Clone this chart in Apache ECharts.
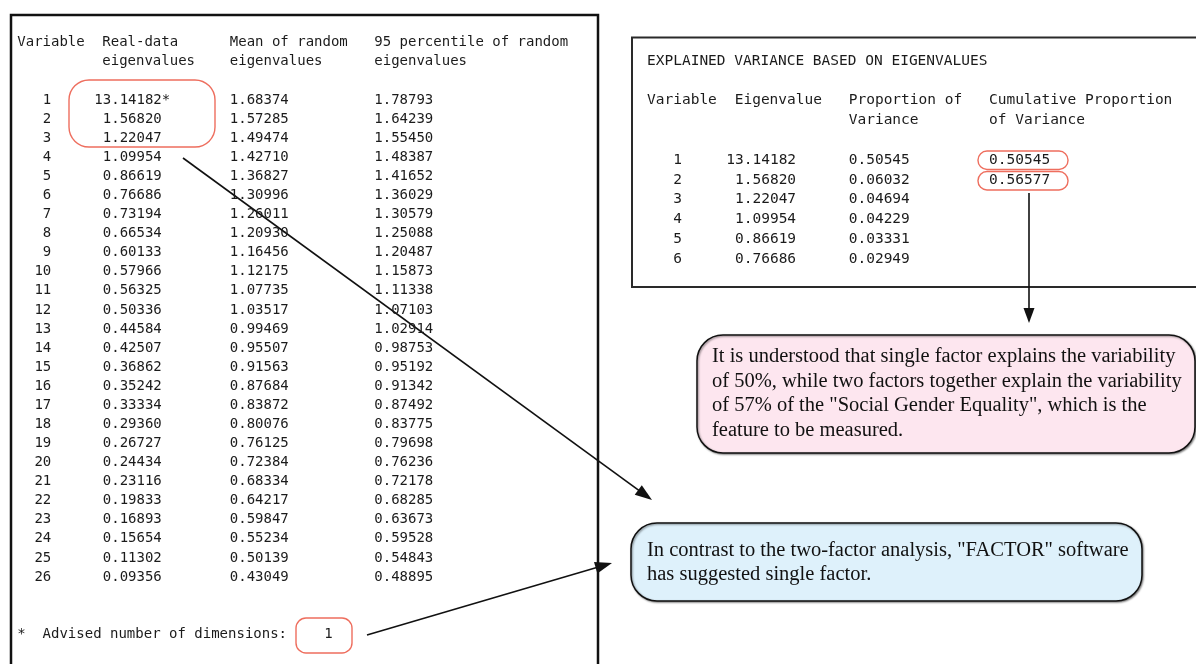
<!DOCTYPE html>
<html>
<head>
<meta charset="utf-8">
<script src="https://cdn.jsdelivr.net/npm/echarts@6/dist/echarts.min.js"></script>
<style>
html,body{margin:0;padding:0;background:#fff;}
#chart{width:1196px;height:664px;}
</style>
</head>
<body>
<div id="chart"></div>
<script>
// ---------- DATA ----------
const parallelVariables = [1,2,3,4,5,6,7,8,9,10,11,12,13,14,15,16,17,18,19,20,21,22,23,24,25,26];
const realDataEigenvalues = [13.14182,1.56820,1.22047,1.09954,0.86619,0.76686,0.73194,0.66534,0.60133,0.57966,0.56325,0.50336,0.44584,0.42507,0.36862,0.35242,0.33334,0.29360,0.26727,0.24434,0.23116,0.19833,0.16893,0.15654,0.11302,0.09356];
const meanRandomEigenvalues = [1.68374,1.57285,1.49474,1.42710,1.36827,1.30996,1.26011,1.20930,1.16456,1.12175,1.07735,1.03517,0.99469,0.95507,0.91563,0.87684,0.83872,0.80076,0.76125,0.72384,0.68334,0.64217,0.59847,0.55234,0.50139,0.43049];
const p95RandomEigenvalues = [1.78793,1.64239,1.55450,1.48387,1.41652,1.36029,1.30579,1.25088,1.20487,1.15873,1.11338,1.07103,1.02914,0.98753,0.95192,0.91342,0.87492,0.83775,0.79698,0.76236,0.72178,0.68285,0.63673,0.59528,0.54843,0.48895];
const leftHeaders = [['Variable',''],['Real-data','eigenvalues'],['Mean of random','eigenvalues'],['95 percentile of random','eigenvalues']];
const advisedLabel = '*  Advised number of dimensions:';
const advisedDimensions = 1;

const explTitle = 'EXPLAINED VARIANCE BASED ON EIGENVALUES';
const explHeaders = [['Variable',''],['Eigenvalue',''],['Proportion of','Variance'],['Cumulative Proportion','of Variance']];
const explVariables = [1,2,3,4,5,6];
const explEigenvalues = [13.14182,1.56820,1.22047,1.09954,0.86619,0.76686];
const proportionOfVariance = [0.50545,0.06032,0.04694,0.04229,0.03331,0.02949];
const cumulativeProportion = [0.50545,0.56577];

const pinkNote = ['It is understood that single factor explains the variability',
  'of 50%, while two factors together explain the variability',
  'of 57% of the "Social Gender Equality", which is the',
  'feature to be measured.'];
const blueNote = ['In contrast to the two-factor analysis, "FACTOR" software',
  'has suggested single factor.'];

// ---------- BUILD CELLS ----------
const f5 = v => v.toFixed(5);
const MONO = '"DejaVu Sans Mono", "Liberation Mono", monospace';

// left table: x in character columns, y in row index
const leftCells = [];
const leftColStart = [0,10,25,42];
leftHeaders.forEach((h,k)=>{
  leftCells.push({c:leftColStart[k], r:-2, t:h[0], a:'left'});
  if (h[1]) leftCells.push({c:leftColStart[k], r:-1, t:h[1], a:'left'});
});
parallelVariables.forEach((v,i)=>{
  const r = i+1;
  leftCells.push({c:4, r, t:String(v), a:'right'});
  leftCells.push({c:17, r, t:f5(realDataEigenvalues[i]), a:'right'});
  leftCells.push({c:25, r, t:f5(meanRandomEigenvalues[i]), a:'left'});
  leftCells.push({c:42, r, t:f5(p95RandomEigenvalues[i]), a:'left'});
});
leftCells.push({c:17, r:1, t:'*', a:'left'});
leftCells.push({c:0, r:29, t:advisedLabel, a:'left'});
leftCells.push({c:36.6, r:29, t:String(advisedDimensions), a:'center'});

const rightCells = [];
const rightColStart = [0,10,23,39];
rightCells.push({c:0, r:-4, t:explTitle, a:'left'});
explHeaders.forEach((h,k)=>{
  rightCells.push({c:rightColStart[k], r:-2, t:h[0], a:'left'});
  if (h[1]) rightCells.push({c:rightColStart[k], r:-1, t:h[1], a:'left'});
});
explVariables.forEach((v,i)=>{
  const r = i+1;
  rightCells.push({c:4, r, t:String(v), a:'right'});
  rightCells.push({c:17, r, t:f5(explEigenvalues[i]), a:'right'});
  rightCells.push({c:23, r, t:f5(proportionOfVariance[i]), a:'left'});
  if (i < cumulativeProportion.length) rightCells.push({c:39, r, t:f5(cumulativeProportion[i]), a:'left'});
});

function textSeries(cells, gridIndex, fontSize){
  return {
    type:'custom', coordinateSystem:'cartesian2d',
    xAxisIndex:gridIndex, yAxisIndex:gridIndex, clip:false, silent:true,
    data: cells.map(d=>[d.c, d.r]),
    renderItem:(params, api)=>{
      const cell = cells[params.dataIndex];
      const p = api.coord([api.value(0), api.value(1)]);
      return {type:'text', x:p[0], y:p[1], style:{text:cell.t, fill:'#1b1b1b',
        font: fontSize+'px '+MONO, align:cell.a, verticalAlign:'middle'}};
    }
  };
}

// ---------- DECORATIONS ----------
function arrow(x1,y1,x2,y2,len,w){
  const dx=x2-x1, dy=y2-y1, L=Math.hypot(dx,dy), ux=dx/L, uy=dy/L;
  const bx=x2-ux*len, by=y2-uy*len;
  return [
    {type:'line', shape:{x1,y1,x2:bx+ux*2,y2:by+uy*2}, style:{stroke:'#111', lineWidth:1.6}, silent:true},
    {type:'polygon', shape:{points:[[x2,y2],[bx-uy*w/2,by+ux*w/2],[bx+uy*w/2,by-ux*w/2]]}, style:{fill:'#111'}, silent:true}
  ];
}
const SERIF = '"Liberation Serif", "Times New Roman", serif';
const RED = '#ee6e5e';
const graphics = [
  {type:'rect', shape:{x:11, y:15, width:587, height:700}, style:{fill:'none', stroke:'#111', lineWidth:2.5}, silent:true},
  {type:'rect', shape:{x:632, y:37.5, width:620, height:249.5}, style:{fill:'none', stroke:'#2a2a2a', lineWidth:2}, silent:true},
  {type:'rect', shape:{x:69, y:80, width:146, height:67, r:20}, style:{fill:'none', stroke:RED, lineWidth:1.4}, silent:true},
  {type:'rect', shape:{x:978, y:151, width:90, height:18.5, r:9}, style:{fill:'none', stroke:RED, lineWidth:1.4}, silent:true},
  {type:'rect', shape:{x:978, y:171.5, width:90, height:18.5, r:9}, style:{fill:'none', stroke:RED, lineWidth:1.4}, silent:true},
  {type:'rect', shape:{x:296, y:618, width:56, height:35, r:10}, style:{fill:'none', stroke:RED, lineWidth:1.4}, silent:true},
  {type:'rect', shape:{x:697, y:335, width:498, height:118, r:26}, style:{fill:'#fde6ef', stroke:'#111', lineWidth:1.5, shadowBlur:2, shadowOffsetX:1, shadowOffsetY:1, shadowColor:'rgba(0,0,0,0.45)'}, silent:true},
  {type:'rect', shape:{x:631, y:523, width:511, height:78, r:26}, style:{fill:'#def1fb', stroke:'#111', lineWidth:1.5, shadowBlur:2, shadowOffsetX:1, shadowOffsetY:1, shadowColor:'rgba(0,0,0,0.45)'}, silent:true},
  ...arrow(183,158,652,500,17,12),
  ...arrow(367,635,612,563,17,12),
  ...arrow(1029,193,1029,323,15,11)
];
pinkNote.forEach((t,i)=>graphics.push({type:'text', x:712, y:357+i*24.4, style:{text:t, font:'20.5px '+SERIF, fill:'#111', verticalAlign:'middle'}, silent:true}));
blueNote.forEach((t,i)=>graphics.push({type:'text', x:647, y:551+i*24, style:{text:t, font:'20.5px '+SERIF, fill:'#111', verticalAlign:'middle'}, silent:true}));

// ---------- CHART ----------
const L = {x0:17.3, cw:8.5, y1:100, rh:19.08};
const R = {x0:647, cw:8.77, y1:160, rh:19.8};
const chart = echarts.init(document.getElementById('chart'), null, {renderer:'canvas'});
chart.setOption({
  animation:false,
  backgroundColor:'#fff',
  grid:[
    {left:L.x0, top:L.y1-4*L.rh, width:70*L.cw, height:33*L.rh},
    {left:R.x0, top:R.y1-6*R.rh, width:62*R.cw, height:13*R.rh}
  ],
  xAxis:[
    {gridIndex:0, type:'value', min:0, max:70, show:false},
    {gridIndex:1, type:'value', min:0, max:62, show:false}
  ],
  yAxis:[
    {gridIndex:0, type:'value', min:-3, max:30, inverse:true, show:false},
    {gridIndex:1, type:'value', min:-5, max:8, inverse:true, show:false}
  ],
  series:[ textSeries(leftCells,0,14), textSeries(rightCells,1,14.5) ],
  graphic: graphics
});
</script>
</body>
</html>
